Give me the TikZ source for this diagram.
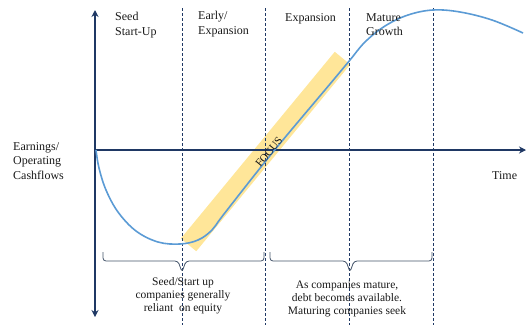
\documentclass[tikz,border=0pt]{standalone}
\usepackage{fontspec}
\setmainfont{Liberation Serif}
\usetikzlibrary{arrows.meta}
\definecolor{axisnavy}{HTML}{1F3864}
\definecolor{curveblue}{HTML}{5B9BD5}
\definecolor{focusgold}{HTML}{FFE699}
\definecolor{bracegrey}{HTML}{44546A}
\begin{document}
\begin{tikzpicture}[x=1pt, y=-1pt,
  axis/.style={draw=axisnavy, line width=1.6pt},
  stage/.style={draw=axisnavy, dash pattern=on 3pt off 2pt, line width=0.8pt},
  lbl/.style={font=\fontsize{12}{14.5}\selectfont, text=black!90, align=left, inner sep=0pt},
  note/.style={font=\fontsize{11.5}{13}\selectfont, text=black!90, align=center, inner sep=0pt},
  phasebrace/.style={draw=bracegrey, line width=0.8pt, rounded corners=3pt}]
\useasboundingbox (0,0) rectangle (526,325);
\node[fill=focusgold, rotate=50.5, minimum width=242pt, minimum height=20pt, inner sep=0pt] (band) at (265.5,151.5) {};
\coordinate (O) at (95,150);
\coordinate (Ytop) at (95,10);
\coordinate (Ybot) at (95,317);
\coordinate (Xend) at (526,150);
\coordinate (s1t) at (182,8);
\coordinate (s1b) at (182,325);
\coordinate (s2t) at (265,8);
\coordinate (s2b) at (265,325);
\coordinate (s3t) at (349,8);
\coordinate (s3b) at (349,325);
\coordinate (s4t) at (433,8);
\coordinate (s4b) at (433,325);
\draw[stage] (s1t) -- (s1b);
\draw[stage] (s2t) -- (s2b);
\draw[stage] (s3t) -- (s3b);
\draw[stage] (s4t) -- (s4b);
\draw[axis, {Stealth[length=7pt,width=7pt]}-{Stealth[length=7pt,width=7pt]}] (Ybot) -- (Ytop);
\draw[axis, -{Stealth[length=7pt,width=7pt]}] (O) -- (Xend);
\draw[curveblue, line width=1.6pt] plot[smooth, tension=0.6] coordinates {(96,150) (99,168) (106,190) (118,212) (136,231) (158,242) (180,244) (198,240) (212,230) (224,214) (273,152) (330,84) (350,60) (365,42) (385,26) (408,15) (433,10) (460,12) (492,20) (523,33)};
\node[rotate=50.5, font=\fontsize{11}{13}\selectfont, text=black!90, inner sep=0pt] (focus) at (269,152) {FOCUS};
\node[lbl, anchor=north west] (seed) at (115,12) {Seed\\Start-Up};
\node[lbl, anchor=north west] (early) at (198,11) {Early/\\Expansion};
\node[lbl, anchor=north west] (expansion) at (285,13) {Expansion};
\node[lbl, anchor=north west] (mature) at (366,13) {Mature\\Growth};
\node[lbl, anchor=north west] (earnings) at (13,142) {Earnings/\\Operating\\Cashflows};
\node[lbl, anchor=west] (time) at (492,176) {Time};
\coordinate (b1l) at (103,252);
\coordinate (b1m) at (182,272);
\coordinate (b1r) at (264,252);
\coordinate (b2l) at (270,252);
\coordinate (b2m) at (350,272);
\coordinate (b2r) at (432,252);
\draw[phasebrace] (b1l) -- (103,261) -- (178,261) -- (b1m) -- (186,261) -- (264,261) -- (b1r);
\draw[phasebrace] (b2l) -- (270,261) -- (346,261) -- (b2m) -- (354,261) -- (432,261) -- (b2r);
\node[note, anchor=north] (equity) at (183,277) {Seed/Start up\\companies generally\\reliant~ on equity};
\node[note, anchor=north] (debt) at (347,281) {As companies mature,\\debt becomes available.\\Maturing companies seek};
\end{tikzpicture}
\end{document}
